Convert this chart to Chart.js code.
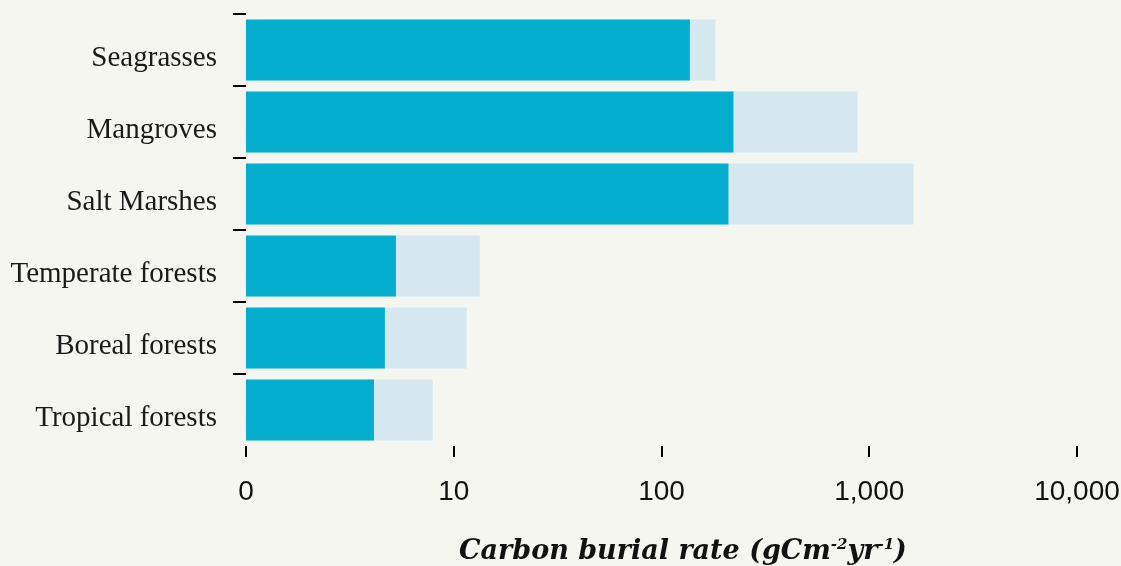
<!DOCTYPE html>
<html>
<head>
<meta charset="utf-8">
<script src="https://cdn.jsdelivr.net/npm/chart.js@4"></script>
<style>
  html, body { margin: 0; padding: 0; background: #f6f6f1; }
  #wrap { width: 1121px; height: 566px; position: relative; }
</style>
</head>
<body>
<div id="wrap"><canvas id="c"></canvas></div>
<script>
const categories = ['Seagrasses', 'Mangroves', 'Salt Marshes', 'Temperate forests', 'Boreal forests', 'Tropical forests'];
const meanRate = [137, 222, 210, 5.27, 4.66, 4.13];
const maxRate = [182, 878, 1633, 13.35, 11.56, 7.93];
const tickValues = [1, 10, 100, 1000, 10000];
const tickLabels = ['0', '10', '100', '1,000', '10,000'];
const axisTitleParts = [
  { text: 'Carbon burial rate (gCm', sup: false },
  { text: '-2', sup: true },
  { text: 'yr', sup: false },
  { text: '-1', sup: true },
  { text: ')', sup: false }
];

const titlePlugin = {
  id: 'axisTitle',
  afterDraw(chart) {
    const ctx = chart.ctx;
    const size = 27, supSize = 15;
    const fam = '"DejaVu Serif", Georgia, serif';
    const mainFont = 'italic bold ' + size + 'px ' + fam;
    const supFont = 'italic bold ' + supSize + 'px ' + fam;
    ctx.save();
    let total = 0;
    axisTitleParts.forEach(p => {
      ctx.font = p.sup ? supFont : mainFont;
      total += ctx.measureText(p.text).width;
    });
    let x = 683 - total / 2;
    const base = 559;
    ctx.fillStyle = '#111';
    ctx.textBaseline = 'alphabetic';
    ctx.textAlign = 'left';
    axisTitleParts.forEach(p => {
      ctx.font = p.sup ? supFont : mainFont;
      ctx.fillText(p.text, x, p.sup ? base - 10 : base);
      x += ctx.measureText(p.text).width;
    });
    ctx.restore();
  }
};

new Chart(document.getElementById('c'), {
  type: 'bar',
  data: {
    labels: categories,
    datasets: [
      {
        label: 'Mean',
        data: meanRate,
        backgroundColor: '#03adcd',
        grouped: false,
        order: 0,
        barPercentage: 0.85,
        categoryPercentage: 1
      },
      {
        label: 'Max',
        data: maxRate,
        backgroundColor: '#d5e8f0',
        grouped: false,
        order: 1,
        barPercentage: 0.85,
        categoryPercentage: 1
      }
    ]
  },
  options: {
    indexAxis: 'y',
    responsive: true,
    maintainAspectRatio: false,
    animation: false,
    layout: { padding: { top: 14, left: 0, bottom: 0, right: 44 } },
    plugins: { legend: { display: false }, tooltip: { enabled: false }, title: { display: false } },
    scales: {
      x: {
        type: 'logarithmic',
        min: 1,
        max: 10000,
        afterBuildTicks(scale) { scale.ticks = tickValues.map(v => ({ value: v })); },
        afterFit(scale) {
          scale.height = 120;
          scale.paddingLeft = 0; scale.paddingRight = 0;
          scale.paddingTop = 0; scale.paddingBottom = 0;
        },
        border: { display: false },
        grid: { drawOnChartArea: false, drawTicks: true, tickLength: 11, color: '#000', tickColor: '#000', lineWidth: 2 },
        ticks: {
          color: '#111',
          padding: 18,
          maxRotation: 0,
          autoSkip: false,
          font: { family: '"Liberation Sans", Arial, sans-serif', size: 28 },
          callback(value) {
            const i = tickValues.indexOf(value);
            return i >= 0 ? tickLabels[i] : '';
          }
        }
      },
      y: {
        afterFit(scale) {
          scale.width = 246;
          scale.paddingTop = 0; scale.paddingBottom = 0;
          scale.paddingLeft = 0; scale.paddingRight = 0;
        },
        border: { display: false },
        grid: {
          offset: true,
          drawOnChartArea: false,
          tickLength: 13,
          lineWidth: 2,
          color: c => (c.index === undefined ? 'rgba(0,0,0,0)' : '#000'),
          tickColor: c => (c.index === undefined ? 'rgba(0,0,0,0)' : '#000')
        },
        ticks: {
          color: '#1a1a1a',
          padding: 16,
          labelOffset: 8,
          font: { family: '"Liberation Serif", Georgia, serif', size: 29 }
        }
      }
    }
  },
  plugins: [titlePlugin]
});
</script>
</body>
</html>
